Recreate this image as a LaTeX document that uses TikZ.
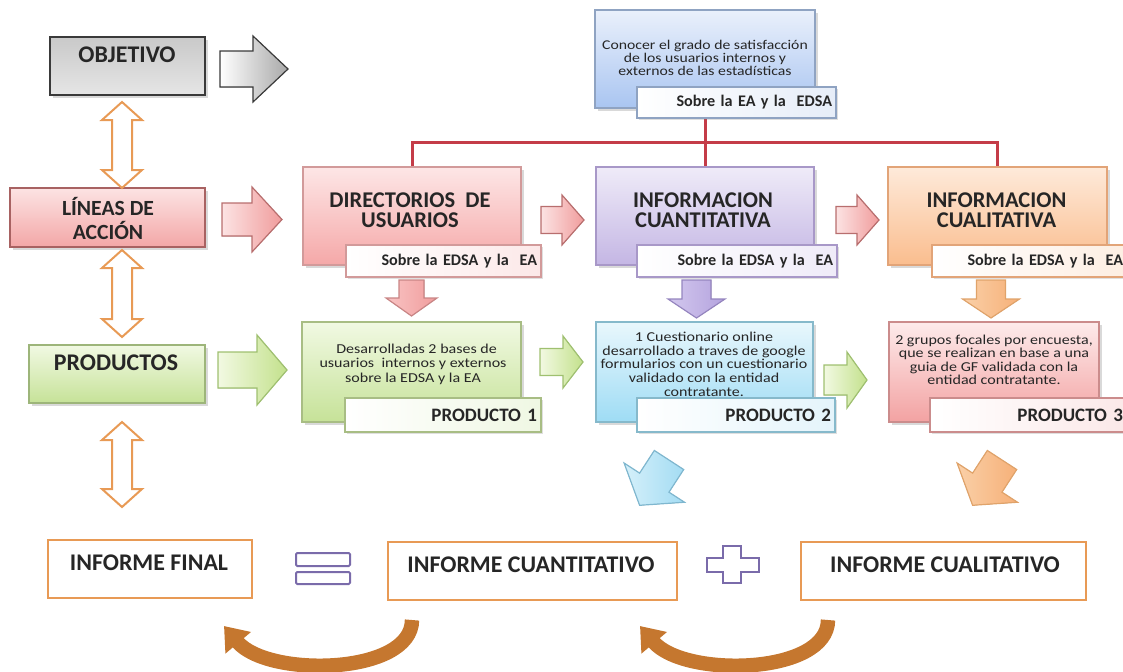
\documentclass[tikz,border=0pt]{standalone}
\usepackage{fontspec}
\setmainfont{Carlito}
\usepackage{graphicx}
\usetikzlibrary{arrows.meta, shadows, backgrounds, positioning}

\definecolor{txt}{HTML}{262626}
\definecolor{objline}{HTML}{3A3A3A}
\definecolor{objtop}{HTML}{C9C9C9}
\definecolor{objbot}{HTML}{E6E6E6}
\definecolor{linline}{HTML}{A86262}
\definecolor{lintop}{HTML}{FCE3E3}
\definecolor{linbot}{HTML}{F3A7A7}
\definecolor{prline}{HTML}{9DB57A}
\definecolor{prtop}{HTML}{F1F9E3}
\definecolor{prbot}{HTML}{C6E298}
\definecolor{goalline}{HTML}{8FA3C2}
\definecolor{goaltop}{HTML}{EAF0FB}
\definecolor{goalbot}{HTML}{A9C5F1}
\definecolor{goaltint}{HTML}{E6EDF8}
\definecolor{dirline}{HTML}{D29A9A}
\definecolor{dirtop}{HTML}{FDE6E6}
\definecolor{dirbot}{HTML}{F5A8A8}
\definecolor{dirtint}{HTML}{FCE8E8}
\definecolor{cuantline}{HTML}{A898C8}
\definecolor{cuanttop}{HTML}{EFEBF8}
\definecolor{cuantbot}{HTML}{C4B6E4}
\definecolor{cuanttint}{HTML}{EFEBF8}
\definecolor{cualline}{HTML}{E2A478}
\definecolor{cualtop}{HTML}{FEEADA}
\definecolor{cualbot}{HTML}{FABD8E}
\definecolor{cualtint}{HTML}{FDEEE2}
\definecolor{p1line}{HTML}{A8BD84}
\definecolor{p1tint}{HTML}{EFF7E3}
\definecolor{p2line}{HTML}{86B9CB}
\definecolor{p2top}{HTML}{E9F7FC}
\definecolor{p2bot}{HTML}{9EDCF5}
\definecolor{p2tint}{HTML}{E4F4FB}
\definecolor{p3line}{HTML}{CB8C8C}
\definecolor{p3top}{HTML}{FDEBEB}
\definecolor{p3bot}{HTML}{F3A2A2}
\definecolor{p3tint}{HTML}{FBE8E8}
\definecolor{finorange}{HTML}{E89A55}
\definecolor{oppurple}{HTML}{7A6BAA}
\definecolor{linered}{HTML}{C43C48}
\definecolor{curvebrown}{HTML}{C5772F}
\definecolor{graydark}{HTML}{A8A8A8}
\definecolor{pinkline}{HTML}{B86E6E}
\definecolor{pinkdark}{HTML}{F09C9C}
\definecolor{greenline}{HTML}{9FC070}
\definecolor{greendark}{HTML}{C3E18C}
\definecolor{greenlight}{HTML}{F2F9E2}
\definecolor{pdownline}{HTML}{C98585}
\definecolor{pdownlight}{HTML}{F9C4C4}
\definecolor{vdownline}{HTML}{9585BF}
\definecolor{vdownlight}{HTML}{D3C8EE}
\definecolor{vdowndark}{HTML}{B4A3DE}
\definecolor{odownline}{HTML}{E0A36A}
\definecolor{odownlight}{HTML}{FAD0A8}
\definecolor{odowndark}{HTML}{F6B078}
\definecolor{bdiagline}{HTML}{7FB7CF}
\definecolor{bdiaglight}{HTML}{D5F0FA}
\definecolor{bdiagdark}{HTML}{A3DCF3}

\tikzset{
  box/.style={rectangle, inner sep=0pt, line width=0.3mm,
    drop shadow={shadow xshift=0.7mm, shadow yshift=-0.7mm, opacity=0.3}},
  sublbl/.style={rectangle, inner xsep=1mm, inner ysep=0pt, line width=0.3mm,
    align=right, text=txt, font=\fontsize{11.5}{12}\selectfont\bfseries,
    drop shadow={shadow xshift=0.5mm, shadow yshift=-0.5mm, opacity=0.25}},
  hdr/.style={inner sep=0pt, align=center, text=txt, font=\fontsize{17}{15}\selectfont\bfseries},
  midhdr/.style={hdr, font=\fontsize{16}{14.5}\selectfont\bfseries},
  bodytxt/.style={inner sep=0pt, text=txt, font=\fontsize{11.4}{12}\selectfont},
  finbox/.style={rectangle, inner sep=0pt, draw=finorange, line width=0.6mm, fill=white},
  dblarrow/.style={draw=finorange, line width=0.5mm, fill=white},
  opsign/.style={draw=oppurple, line width=0.5mm, fill=white, rounded corners=0.3mm},
  redline/.style={draw=linered, line width=0.75mm},
  curvarr/.style={draw=curvebrown, line width=3.6mm, -{Triangle[width=8mm, length=5.5mm]}},
  grayarr/.style={draw=objline, line width=0.3mm, left color=white, right color=graydark},
  pinkarr/.style={draw=pinkline, line width=0.3mm, left color=lintop, right color=pinkdark},
  greenarr/.style={draw=greenline, line width=0.3mm, left color=greenlight, right color=greendark},
  pinkdown/.style={draw=pdownline, line width=0.3mm, left color=pdownlight, right color=pinkdark},
  violetdown/.style={draw=vdownline, line width=0.3mm, left color=vdownlight, right color=vdowndark},
  orangedown/.style={draw=odownline, line width=0.3mm, left color=odownlight, right color=odowndark},
  bluediag/.style={draw=bdiagline, line width=0.3mm, left color=bdiaglight, right color=bdiagdark},
}

% block arrow: [style]{tail}{angle}{length}{shaft}{head width}{head length}
\newcommand{\blockarr}[7][]{%
  \filldraw[#1, shift={#2}, rotate=#3] (0,{-#5/2}) -- ({#4-#7},{-#5/2}) -- ({#4-#7},{-#6/2})
    -- (#4,0) -- ({#4-#7},{#6/2}) -- ({#4-#7},{#5/2}) -- (0,{#5/2}) -- cycle;}
% vertical double arrow: {x}{top}{bottom}
\newcommand{\dblarr}[3]{%
  \filldraw[dblarrow] (#1,#2) -- ({#1+20},{#2+18}) -- ({#1+10},{#2+18}) -- ({#1+10},{#3-18})
    -- ({#1+20},{#3-18}) -- (#1,#3) -- ({#1-20},{#3-18}) -- ({#1-10},{#3-18})
    -- ({#1-10},{#2+18}) -- ({#1-20},{#2+18}) -- cycle;}
\newcommand{\sqz}[1]{\scalebox{1}[0.85]{\begin{tabular}{@{}c@{}}#1\end{tabular}}}

\begin{document}
\begin{tikzpicture}[x=0.25mm, y=-0.25mm]
  \useasboundingbox (0,0) rectangle (1123,672);

  % left column
  \node[box, draw=objline, top color=objtop, bottom color=objbot, minimum width=38.75mm, minimum height=14.5mm] (obj) at (127.5,66) {};
  \node[hdr] (objtxt) at (127,55) {OBJETIVO};
  \node[box, draw=linline, top color=lintop, bottom color=linbot, minimum width=48.75mm, minimum height=14.75mm] (lin) at (107.5,217.5) {};
  \node[hdr, font=\fontsize{15.4}{16.4}\selectfont\bfseries] (lintxt) at (108,218.5) {LÍNEAS DE\\ACCIÓN};
  \node[box, draw=prline, top color=prtop, bottom color=prbot, minimum width=44mm, minimum height=14.5mm] (prods) at (117,374) {};
  \node[hdr] (prodstxt) at (116,363) {PRODUCTOS};

  % objective
  \node[box, draw=goalline, top color=goaltop, bottom color=goalbot, minimum width=55mm, minimum height=24.5mm] (goal) at (705,59) {};
  \node[bodytxt, font=\fontsize{11.2}{10}\selectfont] (goaltxt) at (705,60) {\sqz{Conocer el grado de satisfacción\\de los usuarios internos y\\externos de las estadísticas}};
  \node[sublbl, draw=goalline, left color=white, right color=goaltint, text width=47.75mm, minimum height=7.75mm] (goalsub) at (736.5,102.5) {Sobre la EA y la\ \ EDSA};

  % lines of action
  \node[box, draw=dirline, top color=dirtop, bottom color=dirbot, minimum width=54.5mm, minimum height=24.5mm] (dirus) at (412,216) {};
  \node[midhdr] (dirtxt) at (410,210) {DIRECTORIOS\ \ DE\\USUARIOS};
  \node[sublbl, draw=dirline, left color=white, right color=dirtint, text width=46.75mm, minimum height=8mm] (dirsub) at (443.5,261) {Sobre la EDSA y la\ \ EA};
  \node[box, draw=cuantline, top color=cuanttop, bottom color=cuantbot, minimum width=54.5mm, minimum height=24.5mm] (infcuant) at (705,216) {};
  \node[midhdr] (cuanttxt) at (703,210) {INFORMACION\\CUANTITATIVA};
  \node[sublbl, draw=cuantline, left color=white, right color=cuanttint, text width=48mm, minimum height=8mm] (cuantsub) at (737,261) {Sobre la EDSA y la\ \ EA};
  \node[box, draw=cualline, top color=cualtop, bottom color=cualbot, minimum width=54.75mm, minimum height=24.5mm] (infcual) at (997.5,216) {};
  \node[midhdr] (cualtxt) at (996.5,210) {INFORMACION\\CUALITATIVA};
  \node[sublbl, draw=cualline, left color=white, right color=cualtint, text width=46.75mm, minimum height=8mm] (cualsub) at (1029.5,261) {Sobre la EDSA y la\ \ EA};

  % products
  \node[box, draw=p1line, top color=prtop, bottom color=prbot, minimum width=54.75mm, minimum height=25mm] (prod1) at (411.5,372) {};
  \node[bodytxt] (p1txt) at (413,365) {\sqz{\ \ Desarrolladas 2 bases de\\usuarios\ \ internos y externos\\sobre la EDSA y la EA}};
  \node[sublbl, draw=p1line, left color=white, right color=p1tint, text width=47mm, minimum height=8.5mm, font=\fontsize{13.5}{14}\selectfont\bfseries] (p1sub) at (443,415) {PRODUCTO 1};
  \node[box, draw=p2line, top color=p2top, bottom color=p2bot, minimum width=54.25mm, minimum height=25mm] (prod2) at (704.5,372) {};
  \node[bodytxt, font=\fontsize{11.4}{11.5}\selectfont] (p2txt) at (704,366) {\sqz{1 Cuestionario online\\desarrollado a traves de google\\formularios con un cuestionario\\validado con la entidad\\contratante.}};
  \node[sublbl, draw=p2line, left color=white, right color=p2tint, text width=47.5mm, minimum height=8.5mm, font=\fontsize{13.5}{14}\selectfont\bfseries] (p2sub) at (736,415) {PRODUCTO 2};
  \node[box, draw=p3line, top color=p3top, bottom color=p3bot, minimum width=52.5mm, minimum height=25mm] (prod3) at (994,372) {};
  \node[bodytxt, font=\fontsize{11.4}{11.2}\selectfont] (p3txt) at (994,362) {\sqz{2 grupos focales por encuesta,\\que se realizan en base a una\\guia de GF validada con la\\entidad contratante.}};
  \node[sublbl, draw=p3line, left color=white, right color=p3tint, text width=47.25mm, minimum height=8.5mm, font=\fontsize{13.5}{14}\selectfont\bfseries] (p3sub) at (1028.5,415) {PRODUCTO 3};

  % reports
  \node[finbox, minimum width=51mm, minimum height=14.5mm] (ifinal) at (150,569) {};
  \node[hdr] (ifinaltxt) at (149,563) {INFORME FINAL};
  \node[finbox, minimum width=72.25mm, minimum height=14.5mm] (icuant) at (532.5,571) {};
  \node[hdr] (icuanttxt) at (531,565) {INFORME CUANTITATIVO};
  \node[finbox, minimum width=71.25mm, minimum height=14.5mm] (icual) at (943.5,571) {};
  \node[hdr] (icualtxt) at (945,565) {INFORME CUALITATIVO};

  % red tree
  \begin{pgfonlayer}{background}
    \coordinate (bus) at (705,142);
    \draw[redline] (goal.center) -- (infcuant.north);
    \draw[redline] (dirus.north) |- (bus) -| (infcual.north);
  \end{pgfonlayer}

  % block arrows
  \blockarr[grayarr]{(220,69)}{0}{68}{36}{66}{35}
  \blockarr[pinkarr]{(222,219.5)}{0}{60}{33}{65}{30}
  \blockarr[greenarr]{(218,370)}{0}{69}{36}{70}{30}
  \blockarr[pinkarr]{(541,220)}{0}{43}{27}{50}{22}
  \blockarr[pinkarr]{(836,220)}{0}{43}{27}{50}{22}
  \blockarr[greenarr]{(540,362)}{0}{43}{27}{52}{20}
  \blockarr[greenarr]{(824,380)}{0}{43}{30}{56}{20}
  \blockarr[pinkdown]{(411.5,280)}{-90}{36}{25}{51}{18}
  \blockarr[violetdown]{(696.5,280)}{-90}{38}{29}{57}{19}
  \blockarr[orangedown]{(991,280)}{-90}{38}{29}{57}{19}
  \blockarr[bluediag]{(669,460)}{-123}{54}{35}{72}{27}
  \blockarr[orangedown]{(1002,460)}{-123}{54}{35}{72}{27}

  \dblarr{122}{102}{188}
  \dblarr{122}{250}{337}
  \dblarr{122}{422}{507}

  % equals and plus
  \draw[opsign] (296,553) rectangle (350,566);
  \draw[opsign] (296,572) rectangle (350,584);
  \draw[opsign, rounded corners=0pt] (723,546) -- (741,546) -- (741,558) -- (759,558) -- (759,572) -- (741,572)
    -- (741,583) -- (723,583) -- (723,572) -- (707,572) -- (707,558) -- (723,558) -- cycle;

  % loops
  \draw[curvarr] (412,620) .. controls (412,675) and (268,678) .. (224,626);
  \draw[curvarr] (828,620) .. controls (828,675) and (684,678) .. (640,626);
\end{tikzpicture}
\end{document}
